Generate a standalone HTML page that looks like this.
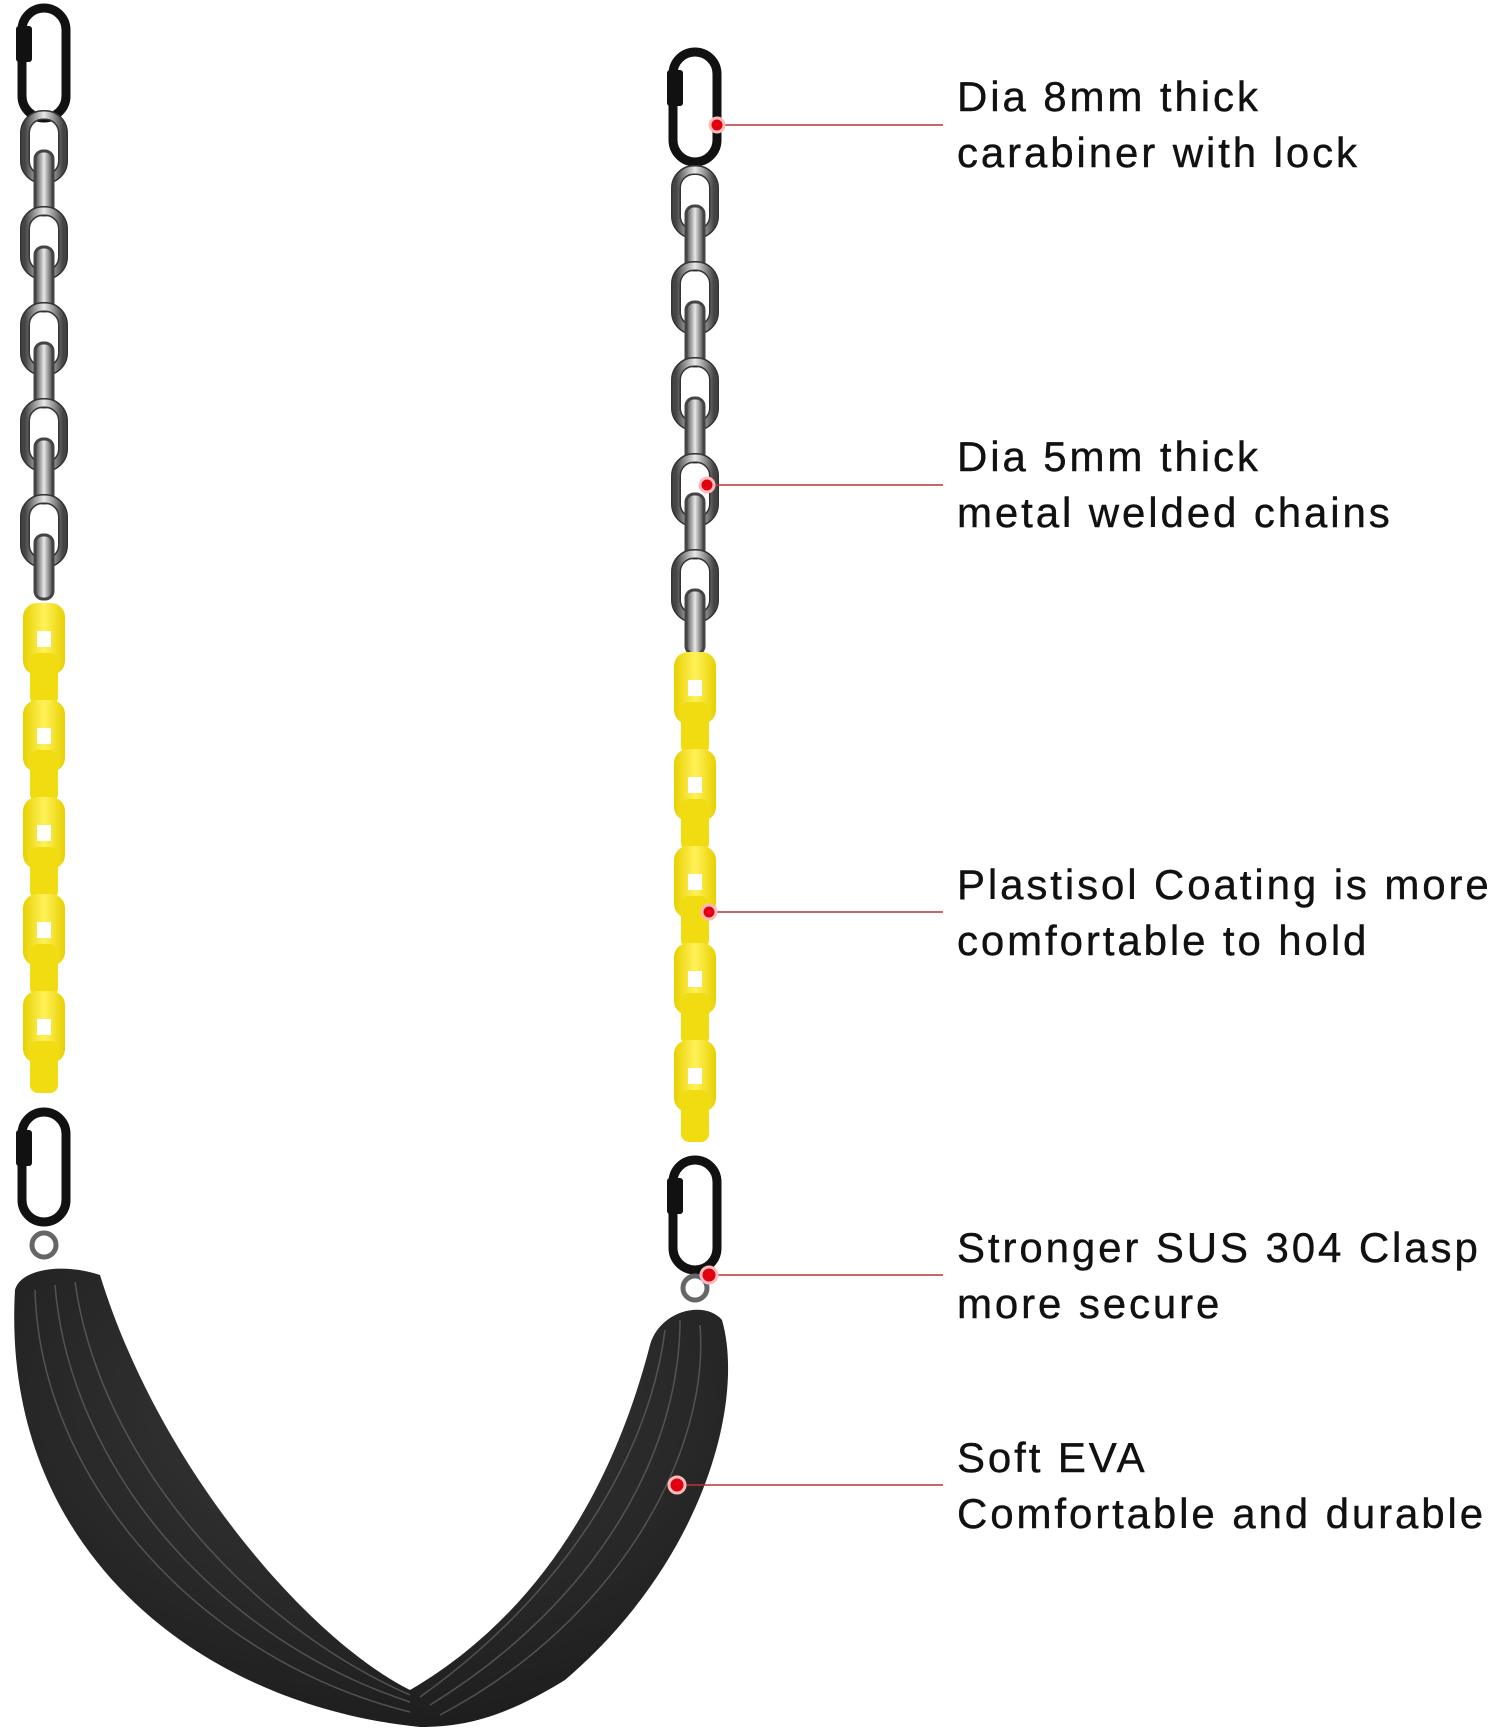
<!DOCTYPE html>
<html><head><meta charset="utf-8"><style>
html,body{margin:0;padding:0;background:#fff}
body{width:1500px;height:1733px;position:relative;overflow:hidden;font-family:"Liberation Sans",sans-serif}
.t{position:absolute;left:957px;font-size:42px;letter-spacing:2.9px;color:#111;line-height:56px;white-space:nowrap;-webkit-text-stroke:0.4px #111}
</style></head><body>
<svg width="1500" height="1733" style="position:absolute;left:0;top:0">
<defs>
<linearGradient id="sil" x1="0" x2="1"><stop offset="0" stop-color="#444"/><stop offset=".5" stop-color="#e8e8e8"/><stop offset="1" stop-color="#444"/></linearGradient>
<linearGradient id="yel" x1="0" x2="1"><stop offset="0" stop-color="#e8d000"/><stop offset=".5" stop-color="#fff25a"/><stop offset="1" stop-color="#e8d000"/></linearGradient>
<radialGradient id="seatg" cx=".5" cy=".3" r=".8"><stop offset="0" stop-color="#3a3a3a"/><stop offset="1" stop-color="#1a1a1a"/></radialGradient>
<g id="silv">
<rect x="-19" y="0" width="38" height="64" rx="18" fill="none" stroke="#333" stroke-width="10"/>
<rect x="-19" y="0" width="38" height="64" rx="18" fill="none" stroke="url(#sil)" stroke-width="7"/>
<rect x="-9" y="36" width="18" height="64" rx="8" fill="url(#sil)" stroke="#444" stroke-width="3"/>
</g>
<g id="yl">
<rect x="-21" y="0" width="42" height="72" rx="14" fill="url(#yel)"/>
<rect x="-7" y="28" width="14" height="16" fill="#fff"/>
<rect x="-14" y="50" width="28" height="52" rx="8" fill="#f0dc10"/>
</g>
<g id="carab">
<rect x="-22" y="0" width="44" height="110" rx="22" fill="none" stroke="#111" stroke-width="9"/>
<rect x="-28" y="18" width="16" height="36" rx="3" fill="#111"/>
</g>
</defs>
<g transform="translate(44,0)">
<use href="#carab" y="8"/>
<use href="#silv" y="115"/><use href="#silv" y="211"/><use href="#silv" y="307"/><use href="#silv" y="403"/><use href="#silv" y="499"/>
<use href="#yl" y="603"/><use href="#yl" y="700"/><use href="#yl" y="797"/><use href="#yl" y="894"/><use href="#yl" y="991"/>
<use href="#carab" y="1112"/>
<circle cx="0" cy="1245" r="12" fill="none" stroke="#666" stroke-width="5"/>
</g>
<g transform="translate(695,0)">
<use href="#carab" y="52"/>
<use href="#silv" y="170"/><use href="#silv" y="266"/><use href="#silv" y="362"/><use href="#silv" y="458"/><use href="#silv" y="554"/>
<use href="#yl" y="652"/><use href="#yl" y="749"/><use href="#yl" y="846"/><use href="#yl" y="943"/><use href="#yl" y="1040"/>
<use href="#carab" y="1160"/>
<circle cx="0" cy="1288" r="12" fill="none" stroke="#666" stroke-width="5"/>
</g>
<path d="M15,1290 C20,1270 60,1262 100,1275 C160,1470 310,1640 410,1690 C530,1620 610,1500 650,1345 C660,1310 705,1300 722,1320 C745,1400 705,1560 565,1680 C505,1717 465,1727 420,1727 C200,1705 0,1550 15,1290 Z" fill="url(#seatg)"/>
<g fill="none" stroke="#666" stroke-width="1.5" opacity=".7">
<path d="M35,1290 C40,1480 200,1660 410,1712"/>
<path d="M55,1285 C70,1470 220,1640 410,1702"/>
<path d="M75,1282 C100,1460 250,1625 410,1695"/>
<path d="M700,1325 C710,1450 620,1620 440,1715"/>
<path d="M680,1320 C680,1450 600,1600 430,1705"/>
<path d="M665,1330 C650,1450 570,1590 420,1697"/>
</g>
<g stroke="#b33" stroke-width="1.5">
<line x1="717" y1="125" x2="943" y2="125"/>
<line x1="707" y1="485" x2="943" y2="485"/>
<line x1="709" y1="912" x2="943" y2="912"/>
<line x1="709" y1="1275" x2="943" y2="1275"/>
<line x1="677" y1="1485" x2="943" y2="1485"/>
</g>
<g fill="#e00010" stroke="#fbb" stroke-width="3">
<circle cx="717" cy="125" r="7"/><circle cx="707" cy="485" r="7"/><circle cx="709" cy="912" r="7"/><circle cx="709" cy="1275" r="8"/><circle cx="677" cy="1485" r="8"/>
</g>
</svg>
<div class="t" style="top:69px">Dia 8mm thick<br>carabiner with lock</div>
<div class="t" style="top:429px">Dia 5mm thick<br>metal welded chains</div>
<div class="t" style="top:857px">Plastisol Coating is more<br>comfortable to hold</div>
<div class="t" style="top:1220px">Stronger SUS 304 Clasp<br>more secure</div>
<div class="t" style="top:1430px">Soft EVA<br>Comfortable and durable</div>
</body></html>
